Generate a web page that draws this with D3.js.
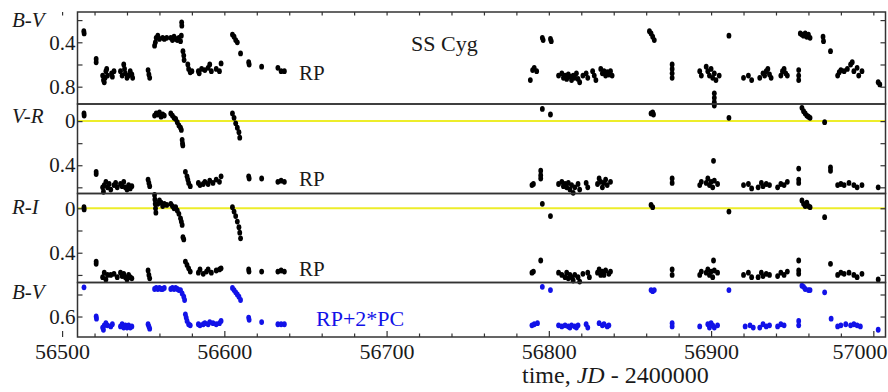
<!DOCTYPE html>
<html>
<head>
<meta charset="utf-8">
<script src="https://cdn.jsdelivr.net/npm/d3@7"></script>
<style>
    body { margin: 0; background: #fff; }
    text { font-family: "Liberation Serif", "Times New Roman", serif; fill: #1a1a1a; }
    .frame { fill: none; stroke: #333; stroke-width: 1.5; }
    .tick line { stroke: #333; stroke-width: 1.2; }
    .zero-line { stroke: #eded2a; stroke-width: 2; }
</style>
</head>
<body>
<div id="chart"></div>
<script>
// ---- data: [JD - 2400000, colour index] ----
const bvData = [
    [56513.4,0.30],[56513.6,0.32],[56521,0.55],[56521,0.58],
    [56525,0.70],[56525.5,0.74],[56526,0.76],[56526.5,0.72],[56527,0.66],[56527.5,0.64],[56528,0.70],
    [56530.5,0.68],[56531,0.71],[56532,0.66],
    [56536,0.66],[56537,0.70],[56538,0.60],[56538.5,0.64],[56539,0.68],[56540,0.72],[56541,0.70],[56542,0.66],[56543,0.69],[56543.5,0.72],
    [56553,0.65],[56553.5,0.69],[56554,0.72],
    [56557,0.43],[56557.5,0.40],[56558,0.36],[56559,0.34],[56560,0.37],[56562,0.36],[56563,0.37],[56564.5,0.36],
    [56567,0.36],[56568,0.38],[56569,0.35],[56570,0.37],[56571,0.38],[56572,0.36],[56573,0.39],[56573.5,0.34],
    [56573.7,0.22],[56573.8,0.25],[56574.5,0.48],[56575,0.52],[56575.2,0.56],
    [56577.5,0.60],[56578,0.64],[56579,0.67],[56580,0.66],
    [56584,0.66],[56584.5,0.68],[56586,0.64],[56588,0.65],[56590,0.63],[56591,0.60],[56592,0.66],[56595,0.64],[56597,0.66],[56598,0.59],
    [56605,0.33],[56606,0.35],[56607,0.38],[56608,0.40],[56610,0.50],
    [56615,0.58],[56615.3,0.60],[56623,0.62],[56633,0.63],[56635,0.66],[56637,0.66],
    [56788.6,0.74],[56790,0.65],[56791,0.63],[56792.5,0.66],
    [56796,0.36],[56796.5,0.38],[56801,0.37],[56801.5,0.39],
    [56806,0.70],[56808,0.68],[56809,0.72],[56810,0.70],[56811,0.73],[56812,0.69],[56813,0.71],[56814,0.74],[56815,0.70],[56816,0.72],
    [56817,0.68],[56818,0.73],[56819,0.76],[56821,0.70],[56823,0.68],[56824,0.72],
    [56827,0.66],[56828,0.70],[56829,0.74],
    [56832,0.64],[56833,0.68],[56834,0.66],[56835,0.70],[56836,0.67],[56837,0.69],[56838,0.66],[56839,0.70],
    [56862,0.30],[56863,0.32],[56864,0.35],[56865,0.38],
    [56876,0.60],[56876,0.64],[56876,0.68],[56876,0.72],
    [56893,0.66],[56894,0.70],[56897,0.62],[56898,0.66],[56899,0.70],[56900,0.64],[56901,0.72],[56902,0.68],[56903,0.74],[56905,0.70],
    [56902,0.86],[56902,0.90],[56902,0.94],[56902,0.97],
    [56911,0.34],
    [56920,0.72],[56923,0.70],[56925,0.74],
    [56930,0.72],[56932,0.68],[56933,0.70],[56934,0.66],[56935,0.64],[56936,0.69],[56937,0.72],
    [56943,0.70],[56944,0.66],[56945,0.64],[56946,0.68],[56947,0.70],
    [56954,0.65],[56954,0.70],[56954,0.74],
    [56955,0.32],[56956,0.33],[56957,0.34],[56958,0.32],[56959,0.35],[56960,0.33],[56961,0.36],
    [56969,0.35],[56969.3,0.39],[56973.6,0.48],
    [56978,0.70],[56979,0.67],[56980,0.65],[56982,0.66],[56984,0.64],[56986,0.60],[56987,0.58],[56988,0.66],[56990,0.63],[56991,0.70],[56993,0.66],
    [57003,0.76],[57004,0.78]
];

const vrData = [
    [56513.5,-0.07],[56513.6,-0.05],[56521,0.46],[56521,0.48],
    [56525,0.60],[56525.5,0.64],[56526,0.58],[56527,0.55],[56528,0.60],[56529,0.57],[56530,0.62],
    [56532,0.58],[56533,0.56],[56534,0.60],[56536,0.57],[56537,0.59],[56538,0.55],[56539,0.60],[56540,0.62],[56541,0.58],[56542,0.61],[56543,0.59],
    [56553,0.53],[56553.5,0.56],[56554,0.59],
    [56557,-0.05],[56558,-0.07],[56559,-0.06],[56560,-0.08],[56561,-0.04],[56562,-0.06],[56563,-0.05],
    [56567,-0.07],[56568,-0.05],[56569,-0.03],[56570,-0.02],[56571,0.01],[56572,0.04],[56573,0.06],[56573.5,0.08],
    [56574,0.17],[56574.2,0.20],[56574.4,0.22],
    [56576,0.46],[56577,0.50],[56577.5,0.53],[56578,0.56],[56579,0.59],
    [56584,0.56],[56585,0.58],[56587,0.57],[56588,0.55],[56590,0.57],[56591,0.54],[56593,0.56],[56595,0.53],[56597,0.55],[56598,0.50],
    [56605,-0.07],[56606,-0.03],[56607,0.02],[56608,0.06],[56609,0.10],[56609.5,0.15],
    [56615,0.50],[56615.3,0.52],[56623,0.52],[56633,0.55],[56635,0.54],[56637,0.55],
    [56789.6,0.58],[56790.5,0.57],[56795,0.45],[56795,0.49],[56795,0.52],
    [56796,-0.11],[56801,-0.06],
    [56806,0.57],[56808,0.55],[56809,0.59],[56810,0.57],[56811,0.60],[56812,0.56],[56813,0.62],[56814,0.58],[56815,0.65],[56816,0.60],[56818,0.57],[56819,0.62],
    [56823,0.56],[56824,0.60],
    [56830,0.57],[56831,0.52],[56832,0.55],[56833,0.60],[56834,0.56],[56835,0.53],[56836,0.58],[56838,0.55],
    [56863,-0.07],[56864,-0.08],[56864.5,-0.06],
    [56876,0.52],[56876,0.56],
    [56893,0.58],[56894,0.55],[56897,0.56],[56898,0.52],[56899,0.58],[56900,0.55],[56901,0.60],[56902,0.54],[56904,0.57],
    [56901.5,0.36],[56911,-0.03],
    [56920,0.58],[56923,0.57],[56925,0.61],
    [56929,0.60],[56931,0.56],[56932,0.59],[56934,0.57],[56936,0.58],
    [56941,0.60],[56943,0.57],[56945,0.58],[56947,0.55],
    [56954,0.43],[56954,0.53],[56954,0.56],
    [56956,-0.12],[56957,-0.09],[56958,-0.07],[56959,-0.05],[56960,-0.04],[56961,-0.03],
    [56970,0.01],[56973.6,0.42],[56973.6,0.45],
    [56978,0.58],[56980,0.57],[56982,0.58],[56985,0.56],[56988,0.58],[56990,0.60],[56993,0.58],
    [57003,0.60]
];

const riData = [
    [56513.5,-0.01],[56513.6,0.01],[56521,0.48],[56521,0.50],
    [56525,0.62],[56526,0.58],[56527,0.64],[56528,0.60],[56530,0.60],[56532,0.59],[56534,0.62],[56536,0.58],[56537,0.61],
    [56538,0.59],[56539,0.62],[56540,0.64],[56541,0.60],[56542,0.62],[56543,0.63],
    [56553,0.56],[56553.5,0.60],[56554,0.63],
    [56557,-0.12],[56557.2,-0.08],[56557.4,-0.04],[56557.6,0.00],[56557.8,0.04],
    [56559,-0.04],[56560,-0.07],[56561,-0.05],[56562,-0.02],[56563,-0.04],[56564.5,-0.03],
    [56567,-0.04],[56568,-0.02],[56569,0.00],[56570,-0.01],[56571,0.02],[56572,0.05],[56573,0.09],[56573.5,0.12],[56574,0.15],
    [56574.5,0.26],[56575,0.28],
    [56576,0.48],[56577,0.51],[56578,0.54],[56579,0.57],
    [56584,0.58],[56585,0.55],[56587,0.59],[56589,0.57],[56590,0.55],[56592,0.58],[56595,0.56],[56597,0.55],[56598,0.54],
    [56605,-0.01],[56606,0.03],[56607,0.07],[56608,0.12],[56609,0.17],[56609.5,0.22],[56610,0.27],
    [56615,0.55],[56615.2,0.57],[56623,0.57],[56633,0.57],[56635,0.56],[56637,0.57],
    [56789.6,0.58],[56790.5,0.57],[56795,0.47],
    [56796,-0.04],[56801,0.07],
    [56806,0.58],[56808,0.60],[56810,0.62],[56811,0.58],[56812,0.63],[56813,0.60],[56814,0.62],[56815,0.65],[56816,0.60],[56818,0.62],[56819,0.66],[56821,0.59],
    [56824,0.58],[56825,0.62],
    [56830,0.58],[56831,0.55],[56832,0.60],[56833,0.57],[56834,0.60],[56835,0.56],[56837,0.59],[56838,0.57],
    [56863,-0.03],[56864,-0.01],
    [56876,0.55],[56876,0.60],
    [56893,0.60],[56894,0.57],[56897,0.58],[56898,0.55],[56899,0.60],[56900,0.57],[56901,0.62],[56902,0.56],[56904,0.58],
    [56901.5,0.47],[56911,0.03],
    [56920,0.60],[56923,0.58],[56925,0.62],
    [56929,0.62],[56931,0.58],[56932,0.61],[56934,0.59],[56936,0.60],
    [56941,0.61],[56943,0.58],[56945,0.60],[56947,0.57],
    [56954,0.47],[56954,0.56],[56954,0.59],
    [56956,-0.07],[56957,-0.04],[56958,-0.02],[56959,-0.05],[56960,-0.02],[56961,-0.01],
    [56970,0.08],[56973.6,0.50],
    [56978,0.60],[56980,0.58],[56982,0.59],[56985,0.58],[56988,0.60],[56990,0.62],[56993,0.59],
    [57003,0.64]
];

// B-V reconstructed as RP + 2*PC
const bvPcData = [
    [56513.5,0.335],[56521,0.60],[56521.2,0.62],
    [56525,0.70],[56525.5,0.72],[56526,0.68],[56527,0.66],[56528,0.68],[56530,0.69],[56531,0.67],
    [56536,0.69],[56537,0.67],[56538,0.70],[56539,0.68],[56540,0.70],[56541,0.68],[56542,0.70],[56543,0.69],
    [56553,0.67],[56553.5,0.69],[56554,0.71],
    [56557,0.35],[56558,0.34],[56559,0.35],[56560,0.34],[56561,0.35],[56562,0.35],[56563,0.34],
    [56567,0.35],[56568,0.34],[56569,0.35],[56570,0.34],[56571,0.35],[56572,0.36],[56573,0.36],
    [56574,0.39],[56575,0.42],[56575.5,0.45],
    [56576,0.58],[56576.5,0.61],[56577,0.64],[56578,0.67],[56579,0.68],
    [56584,0.67],[56585,0.68],[56587,0.67],[56588,0.66],[56590,0.67],[56591,0.65],[56593,0.66],[56595,0.67],[56597,0.66],[56598,0.64],
    [56605,0.34],[56606,0.36],[56607,0.38],[56608,0.40],[56609,0.42],[56610,0.45],
    [56615,0.61],[56615.3,0.63],[56623,0.65],[56633,0.67],[56635,0.67],[56637,0.67],
    [56789.6,0.68],[56791,0.67],[56793,0.66],
    [56796,0.33],[56801,0.36],
    [56806,0.68],[56808,0.69],[56810,0.68],[56812,0.69],[56813,0.70],[56814,0.68],[56816,0.69],[56817,0.70],[56818,0.68],
    [56823,0.67],[56824,0.70],
    [56831,0.66],[56833,0.68],[56834,0.67],[56836,0.69],[56837,0.68],
    [56863,0.36],[56864,0.37],[56865,0.36],
    [56876,0.66],[56876,0.69],
    [56893,0.69],[56898,0.67],[56899,0.70],[56900,0.66],[56901,0.68],[56902,0.70],[56904,0.68],
    [56911,0.36],
    [56921,0.69],[56924,0.68],[56926,0.70],
    [56930,0.70],[56932,0.67],[56934,0.69],[56936,0.68],
    [56941,0.69],[56943,0.67],[56945,0.68],
    [56954,0.64],[56954,0.68],
    [56956,0.32],[56957,0.33],[56958,0.35],[56960,0.36],[56961,0.36],
    [56970,0.38],[56974,0.62],
    [56978,0.69],[56980,0.68],[56983,0.67],[56986,0.68],[56988,0.67],[56990,0.68],[56992,0.69],
    [57003,0.72]
];

const panelNames = ["B-V", "V-R", "R-I", "B-V"];
const panelLabels = [["0.4", "0.8"], ["0", "0.4"], ["0", "0.4"], ["0.6"]];
const panelTicks = [[0.2, 0.4, 0.6, 0.8], [0, 0.2, 0.4, 0.6], [0, 0.2, 0.4, 0.6], [0.4, 0.6]];
const xMajorTicks = [56500, 56600, 56700, 56800, 56900, 57000];
const xMinorTicks = [56520, 56540, 56560, 56580, 56620, 56640, 56660, 56680, 56720, 56740, 56760, 56780,
                     56820, 56840, 56860, 56880, 56920, 56940, 56960, 56980];
const xDomain = [56509.5, 57007.5];

/* * * * * * * * * * * * * *
*     class colourPanels   *
* * * * * * * * * * * * * */
class colourPanels {
    constructor(parentElement) {
        this.parentElement = parentElement;
        this.initVis();
    }

    initVis() {
        let vis = this;

        vis.width = 888;
        vis.height = 392;
        vis.left = 77.5;
        vis.right = 885.5;

        vis.svg = d3.select("#" + vis.parentElement).append("svg")
            .attr("width", vis.width)
            .attr("height", vis.height);

        vis.x = d3.scaleLinear().domain(xDomain).range([vis.left, vis.right]);

        // each panel: value domain at top / bottom edge, pixel range
        vis.panels = [
            {data: bvData,   domain: [0.127, 0.956], range: [12, 104],     color: "#000",    zero: false, labelY: 27},
            {data: vrData,   domain: [-0.155, 0.656], range: [104, 193.5], color: "#000",    zero: true,  labelY: 123},
            {data: riData,   domain: [-0.133, 0.668], range: [193.5, 282.5], color: "#000",  zero: true,  labelY: 214},
            {data: bvPcData, domain: [0.291, 0.786], range: [282.5, 337],  color: "#1212e8", zero: false, labelY: 299}
        ];

        vis.panels.forEach((p, i) => {
            p.y = d3.scaleLinear().domain(p.domain).range(p.range);
            vis.drawPanel(p, i);
        });

        vis.drawXAxes();
        vis.drawText();
    }

    drawPanel(p, i) {
        let vis = this;
        let g = vis.svg.append("g");

        if (p.zero) {
            g.append("line")
                .attr("class", "zero-line")
                .attr("x1", vis.left).attr("x2", vis.right)
                .attr("y1", p.y(0)).attr("y2", p.y(0));
        }

        let fmt = d => d === 0 ? "0" : d3.format(".1f")(d);

        // left axis, ticks pointing inward
        g.append("g")
            .attr("transform", `translate(${vis.left},0)`)
            .call(d3.axisLeft(p.y).tickValues(panelTicks[i]).tickSize(-5).tickPadding(3)
                .tickFormat(d => panelLabels[i].includes(fmt(d)) ? fmt(d) : ""))
            .call(a => a.select(".domain").remove())
            .call(a => a.selectAll("text")
                .attr("x", -2)
                .style("font-size", "21px")
                .style("font-family", "'Liberation Serif', serif")
                .attr("fill", "#1a1a1a"));

        // right axis
        g.append("g")
            .attr("transform", `translate(${vis.right},0)`)
            .call(d3.axisRight(p.y).tickValues(panelTicks[i]).tickSize(-5).tickFormat(""))
            .call(a => a.select(".domain").remove());

        g.append("g")
            .selectAll("ellipse")
            .data(p.data)
            .enter()
            .append("ellipse")
            .attr("cx", d => vis.x(d[0]))
            .attr("cy", d => p.y(d[1]))
            .attr("rx", 2.4)
            .attr("ry", 2.9)
            .attr("fill", p.color);

        g.append("rect")
            .attr("class", "frame")
            .attr("x", vis.left)
            .attr("y", p.range[0])
            .attr("width", vis.right - vis.left)
            .attr("height", p.range[1] - p.range[0]);

        g.append("text")
            .attr("x", 12)
            .attr("y", p.labelY)
            .style("font-size", "21px")
            .style("font-style", "italic")
            .text(panelNames[i]);
    }

    drawXAxes() {
        let vis = this;
        let top = vis.panels[0].range[0];
        let bottom = vis.panels[3].range[1];

        // bottom: major + minor ticks pointing up
        let bAxis = vis.svg.append("g")
            .attr("transform", `translate(0,${bottom})`)
            .call(d3.axisBottom(vis.x).tickValues(xMajorTicks).tickSize(-6).tickPadding(6)
                .tickFormat(d3.format("d")))
            .call(a => a.select(".domain").remove());

        bAxis.selectAll("text")
            .style("font-size", "22px")
            .style("font-family", "'Liberation Serif', serif")
            .attr("fill", "#1a1a1a");

        // last label is pushed inside the window
        bAxis.selectAll(".tick")
            .filter(d => d === 57000)
            .select("text")
            .attr("text-anchor", "end")
            .attr("x", 887 - vis.x(57000));

        vis.svg.append("g")
            .attr("transform", `translate(0,${bottom})`)
            .call(d3.axisBottom(vis.x).tickValues(xMinorTicks).tickSize(-3.5).tickFormat(""))
            .call(a => a.select(".domain").remove());

        // top edge ticks pointing down
        vis.svg.append("g")
            .attr("transform", `translate(0,${top})`)
            .call(d3.axisTop(vis.x).tickValues(xMajorTicks.concat(xMinorTicks)).tickSize(-3.5).tickFormat(""))
            .call(a => a.select(".domain").remove());
    }

    drawText() {
        let vis = this;

        vis.svg.append("text")
            .attr("x", 411).attr("y", 51)
            .style("font-size", "22px")
            .text("SS Cyg");

        [80, 186, 276].forEach(y => {
            vis.svg.append("text")
                .attr("x", 299).attr("y", y)
                .style("font-size", "21px")
                .text("RP");
        });

        vis.svg.append("text")
            .attr("x", 316).attr("y", 326)
            .style("font-size", "22px")
            .style("fill", "#1212e8")
            .text("RP+2*PC");

        let title = vis.svg.append("text")
            .attr("x", 522).attr("y", 383)
            .style("font-size", "24px");
        title.append("tspan").text("time, ");
        title.append("tspan").style("font-style", "italic").text("JD");
        title.append("tspan").text(" - 2400000");
    }
}

new colourPanels("chart");
</script>
</body>
</html>
